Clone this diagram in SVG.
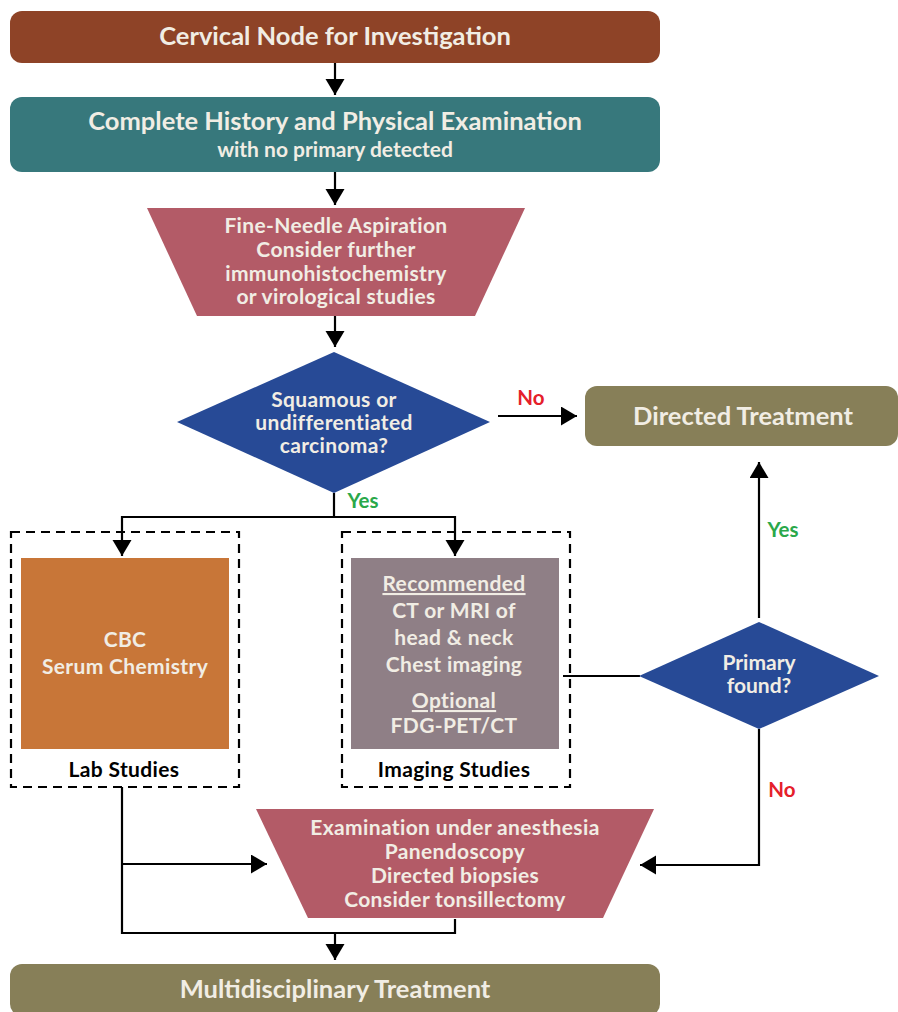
<svg xmlns="http://www.w3.org/2000/svg" width="898" height="1012" viewBox="0 0 898 1012">
  <defs>
    <marker id="arrow" markerUnits="userSpaceOnUse" markerWidth="17" markerHeight="20" refX="16" refY="9.5" orient="auto">
      <path d="M0,0 L16,9.5 L0,19 z" fill="#000"/>
    </marker>
    <style>
      text { font-family: Lato, "Liberation Sans", sans-serif; font-weight: 700; text-anchor: middle; }
      .lt { fill: #f1ede4; }
      .dk { fill: #000; }
      .t24 { font-size: 25.5px; }
      .t20 { font-size: 21px; letter-spacing: 0.35px; }
      .t19 { font-size: 21px; }
      .yes { fill: #2aa84a; font-size: 20.5px; }
      .no { fill: #e5202a; font-size: 20.5px; }
      .ln { fill: none; stroke: #000; stroke-width: 2.2; }
      .arr { marker-end: url(#arrow); }
      .dash { fill: none; stroke: #000; stroke-width: 2.2; stroke-dasharray: 9 6; }
    </style>
  </defs>
  <rect width="898" height="1012" fill="#fff"/>

  <!-- connectors -->
  <g id="connectors">
    <path class="ln arr" d="M335,63 V95"/>
    <path class="ln arr" d="M335,172 V205"/>
    <path class="ln arr" d="M335,316 V347"/>
    <path class="ln arr" d="M498,416 H577"/>
    <path class="ln" d="M334,493 V517 M121,517 H455"/>
    <path class="ln arr" d="M122,516 V556"/>
    <path class="ln arr" d="M455,516 V556"/>
    <path class="ln" d="M563,676 H640"/>
    <path class="ln arr" d="M759,618 V462"/>
    <path class="ln arr" d="M759,729 V865 H640"/>
    <path class="ln" d="M122,787 V933 H455 V919"/>
    <path class="ln arr" d="M122,864 H267"/>
    <path class="ln arr" d="M335,933 V960"/>
    <text class="no" x="531" y="405">No</text>
    <text class="yes" x="363" y="508">Yes</text>
    <text class="yes" x="783" y="537">Yes</text>
    <text class="no" x="782" y="797">No</text>
  </g>

  <g id="cervical-node">
    <rect x="10" y="11" width="650" height="52" rx="12" fill="#8e4327"/>
    <text class="lt t24" x="335" y="45">Cervical Node for Investigation</text>
  </g>

  <g id="history-exam">
    <rect x="10" y="97" width="650" height="75" rx="12" fill="#37787c"/>
    <text class="lt t24" x="335" y="130">Complete History and Physical Examination</text>
    <text class="lt t19" x="335" y="157">with no primary detected</text>
  </g>

  <g id="fine-needle">
    <polygon points="147,208 525,208 475,316 197,316" fill="#b35b67"/>
    <text class="lt t20" x="336" y="233">Fine-Needle Aspiration</text>
    <text class="lt t20" x="336" y="257">Consider further</text>
    <text class="lt t20" x="336" y="281">immunohistochemistry</text>
    <text class="lt t20" x="336" y="304">or virological studies</text>
  </g>

  <g id="squamous-decision">
    <polygon points="334,352 490,422 334,493 177,422" fill="#274a96"/>
    <text class="lt t20" x="334" y="407">Squamous or</text>
    <text class="lt t20" x="334" y="430">undifferentiated</text>
    <text class="lt t20" x="334" y="453">carcinoma?</text>
  </g>

  <g id="directed-treatment">
    <rect x="585" y="386" width="313" height="60" rx="12" fill="#877f58"/>
    <text class="lt t24" x="743" y="425">Directed Treatment</text>
  </g>

  <g id="lab-studies">
    <rect class="dash" x="11" y="532" width="228" height="255"/>
    <rect x="21" y="558" width="208" height="191" fill="#c87638"/>
    <text class="lt t20" x="125" y="647">CBC</text>
    <text class="lt t20" x="125" y="674">Serum Chemistry</text>
    <text class="dk t20" x="124" y="777">Lab Studies</text>
  </g>

  <g id="imaging-studies">
    <rect class="dash" x="342" y="532" width="228" height="255"/>
    <rect x="351" y="558" width="208" height="191" fill="#8f7f86"/>
    <text class="lt t20" x="454" y="591" text-decoration="underline">Recommended</text>
    <text class="lt t20" x="454" y="618">CT or MRI of</text>
    <text class="lt t20" x="454" y="645">head &amp; neck</text>
    <text class="lt t20" x="454" y="672">Chest imaging</text>
    <text class="lt t20" x="454" y="708" text-decoration="underline">Optional</text>
    <text class="lt t20" x="454" y="733">FDG-PET/CT</text>
    <text class="dk t20" x="454" y="777">Imaging Studies</text>
  </g>

  <g id="primary-decision">
    <polygon points="759,622 879,676 759,729 639,676" fill="#274a96"/>
    <text class="lt t19" x="759" y="670">Primary</text>
    <text class="lt t19" x="759" y="693">found?</text>
  </g>

  <g id="examination">
    <polygon points="256,809 654,809 603,918 308,918" fill="#b35b67"/>
    <text class="lt t20" x="455" y="835">Examination under anesthesia</text>
    <text class="lt t20" x="455" y="859">Panendoscopy</text>
    <text class="lt t20" x="455" y="883">Directed biopsies</text>
    <text class="lt t20" x="455" y="907">Consider tonsillectomy</text>
  </g>

  <g id="multidisciplinary">
    <rect x="10" y="964" width="650" height="52" rx="12" fill="#877f58"/>
    <text class="lt t24" x="335" y="998">Multidisciplinary Treatment</text>
  </g>
</svg>
